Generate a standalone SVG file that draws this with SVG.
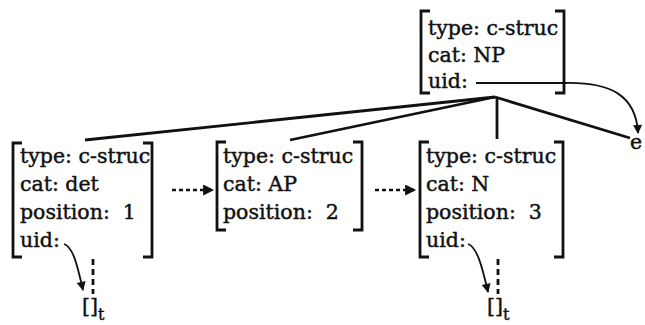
<svg xmlns="http://www.w3.org/2000/svg" width="645" height="325" viewBox="0 0 645 325">
<defs>
<style>
.t{font-family:"DejaVu Serif","Liberation Serif",serif;font-size:20.5px;fill:#111;stroke:#111;stroke-width:0.45;white-space:pre}
.br{fill:none;stroke:#111;stroke-width:2.8}
.tree{fill:none;stroke:#111;stroke-width:2.8}
.uid{fill:none;stroke:#111;stroke-width:1.8}
.dot{fill:none;stroke:#111;stroke-width:2.6;stroke-dasharray:4 3}
.dash{fill:none;stroke:#111;stroke-width:2.8;stroke-dasharray:6 4}
</style>
<marker id="ah" viewBox="0 0 10 10" refX="9" refY="5" markerWidth="11" markerHeight="9" markerUnits="userSpaceOnUse" orient="auto">
<path d="M0,0 L10,5 L0,10 Z" fill="#111"/>
</marker>
<marker id="ah2" viewBox="0 0 10 10" refX="9" refY="5" markerWidth="13" markerHeight="11" markerUnits="userSpaceOnUse" orient="auto">
<path d="M0,0 L10,5 L0,10 Z" fill="#111"/>
</marker>
</defs>
<g id="connectors">
<path class="tree" d="M495 97 L85 140"/>
<path class="tree" d="M495 97 L290 140"/>
<path class="tree" d="M497 97 L497 139"/>
<path class="tree" d="M495 97 L630 138"/>
<path class="uid" d="M476 83 L565 83 C610 82 636 95 638 133" marker-end="url(#ah)"/>
<path class="dot" d="M172 190 L213 190" marker-end="url(#ah2)"/>
<path class="dot" d="M375 190 L415 190" marker-end="url(#ah2)"/>
<path class="uid" d="M64 244 C73 247 77 264 83 290" marker-end="url(#ah)"/>
<path class="uid" d="M468 244 C477 247 482 266 488 292" marker-end="url(#ah)"/>
<path class="dash" d="M93 259 L93 294"/>
<path class="dash" d="M498 259 L498 294"/>
</g>
<g id="np">
<path class="br" d="M430 11 L421 11 L421 93 L430 93 M555 11 L564 11 L564 93 L555 93"/>
<text class="t" x="428" y="35">type: c-struc</text>
<text class="t" x="428" y="62">cat: NP</text>
<text class="t" x="428" y="88">uid:</text>
</g>
<g id="det">
<path class="br" d="M22 143 L13 143 L13 257 L22 257 M143 143 L152 143 L152 257 L143 257"/>
<text class="t" x="20" y="163">type: c-struc</text>
<text class="t" x="20" y="191">cat: det</text>
<text class="t" x="20" y="219">position:  1</text>
<text class="t" x="20" y="247">uid:</text>
</g>
<g id="ap">
<path class="br" d="M226 142 L217 142 L217 230 L226 230 M353 142 L362 142 L362 230 L353 230"/>
<text class="t" x="223" y="163">type: c-struc</text>
<text class="t" x="223" y="191">cat: AP</text>
<text class="t" x="223" y="219">position:  2</text>
</g>
<g id="n">
<path class="br" d="M429 142 L420 142 L420 257 L429 257 M554 142 L563 142 L563 257 L554 257"/>
<text class="t" x="426" y="163">type: c-struc</text>
<text class="t" x="426" y="191">cat: N</text>
<text class="t" x="426" y="219">position:  3</text>
<text class="t" x="426" y="247">uid:</text>
</g>
<g id="e">
<text class="t" x="630" y="149">e</text>
</g>
<g id="t1">
<text class="t" x="82" y="313">[]<tspan font-size="16" dy="7">t</tspan></text>
</g>
<g id="t2">
<text class="t" x="487" y="313">[]<tspan font-size="16" dy="7">t</tspan></text>
</g>
</svg>
